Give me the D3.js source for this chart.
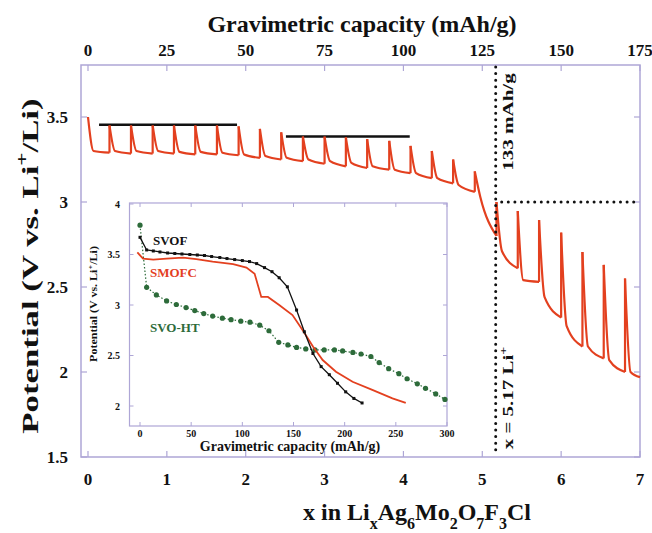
<!DOCTYPE html>
<html lang="en">
<head>
<meta charset="UTF-8">
<script src="https://d3js.org/d3.v7.min.js"></script>
<style>
  body { margin: 0; background: #fff; }
  svg text { font-family: "Liberation Serif", "Times New Roman", serif; font-weight: bold; fill: #111; }
</style>
</head>
<body>
<svg id="chart" width="652" height="533"></svg>
<script>
// ---- main discharge curve (pulsed), x in LixAg6Mo2O7F3Cl ----
// start of each current pulse
const pulseX = [0, 0.2725, 0.545, 0.82, 1.09, 1.36, 1.635, 1.91, 2.18, 2.45, 2.725, 3.0, 3.27,
  3.54, 3.82, 4.09, 4.36, 4.63, 4.905, 5.18, 5.45, 5.72, 6.0, 6.27, 6.54, 6.81];
// relaxed potential reached at the start of each pulse (top of the spike)
const pulseTop = [3.50, 3.45, 3.45, 3.45, 3.45, 3.45, 3.45, 3.445, 3.43, 3.41, 3.385, 3.385, 3.38,
  3.37, 3.36, 3.33, 3.30, 3.25, 3.18, 3.00, 2.947, 2.894, 2.82, 2.706, 2.63, 2.55];
// potential just after the current is switched on
const pulseLow = [3.30, 3.30, 3.30, 3.30, 3.295, 3.295, 3.29, 3.28, 3.27, 3.26, 3.25, 3.24, 3.23,
  3.21, 3.19, 3.17, 3.14, 3.10, 3.03, 2.71, 2.54, 2.44, 2.27, 2.15, 2.07, 2.0];
// potential at the end of each pulse
const pulseEnd = [3.29, 3.285, 3.285, 3.285, 3.28, 3.28, 3.275, 3.26, 3.25, 3.24, 3.225, 3.21, 3.20,
  3.19, 3.17, 3.14, 3.11, 3.06, 2.80, 2.61, 2.53, 2.32, 2.15, 2.08, 2.0, 1.97];
const lastX = 7.0;

// plateau guide lines
const plateauFrom = [0.14, 2.51];
const plateauTo = [1.89, 4.08];
const plateauV = [3.455, 3.385];

// cut-off markers
const cutX = 5.17;
const cutCapacity = 133;
const cutV = 3.0;

// ---- inset curves (capacity mAh/g, potential V) ----
const svofCap = [0, 6.5, 13, 19.5, 27, 34, 41, 48.7, 56, 63, 70, 78, 85, 92.5, 100, 107, 114,
  121.7, 129, 136, 144, 153, 160.6, 169, 177, 185, 193, 201, 209, 217];
const svofV = [3.67, 3.545, 3.535, 3.525, 3.515, 3.51, 3.505, 3.50, 3.495, 3.49, 3.48, 3.47, 3.46,
  3.45, 3.44, 3.43, 3.41, 3.37, 3.33, 3.27, 3.18, 2.95, 2.735, 2.52, 2.39, 2.31, 2.225, 2.14, 2.075, 2.03];

const smofcCap = [-2.6, 3, 13, 26, 42, 55, 71, 91, 104, 112, 118.5, 125, 136, 149, 159, 169, 178.5,
  191.5, 207.7, 227, 246.7, 259.7];
const smofcV = [3.52, 3.46, 3.45, 3.46, 3.47, 3.455, 3.43, 3.405, 3.37, 3.31, 3.08, 3.08, 3.0, 2.9,
  2.75, 2.59, 2.455, 2.34, 2.24, 2.16, 2.075, 2.03];

const svohtCap = [0, 6.5, 16, 26, 35.5, 45, 53.5, 62.3, 71, 80.5, 89, 98.5, 107.5, 117, 126, 135.6,
  144.5, 153, 162, 171, 180, 190, 198, 208, 216, 225.6, 233.7, 243, 253, 261, 271, 279, 289, 298];
const svohtV = [3.79, 3.175, 3.10, 3.04, 3.005, 2.975, 2.945, 2.915, 2.89, 2.87, 2.855, 2.84, 2.83,
  2.80, 2.745, 2.63, 2.605, 2.58, 2.565, 2.555, 2.555, 2.555, 2.545, 2.53, 2.515, 2.49, 2.43, 2.37,
  2.32, 2.27, 2.22, 2.175, 2.12, 2.065];

// ticks
const xTicks = [0, 1, 2, 3, 4, 5, 6, 7];
const capTicks = [0, 25, 50, 75, 100, 125, 150, 175];
const vTicks = [1.5, 2, 2.5, 3, 3.5];
const insetCapTicks = [0, 50, 100, 150, 200, 250, 300];
const insetVTicks = [2, 2.5, 3, 3.5, 4];

const red = "#e3401f";
const green = "#2d6b3a";
const frameColor = "#aea6d6";

const svg = d3.select("svg#chart");

// ---------------- main plot ----------------
const x = d3.scaleLinear().domain([0, 7]).range([88, 640]);
const cap = d3.scaleLinear().domain([0, 175]).range([88, 640]);
const y = d3.scaleLinear().domain([1.5, 3.5]).range([457, 117]);
const frame = { left: x.invert(81), right: 7, bottom: 1.5, top: y.invert(65) };

// frame
svg.append("rect")
  .attr("x", x(frame.left)).attr("y", y(frame.top))
  .attr("width", x(frame.right) - x(frame.left))
  .attr("height", y(frame.bottom) - y(frame.top))
  .attr("fill", "none").attr("stroke", frameColor).attr("stroke-width", 1.5);

// inward ticks on all four sides
const tickG = svg.append("g").attr("stroke", frameColor).attr("stroke-width", 1.2);
xTicks.forEach(t => {
  tickG.append("line").attr("x1", x(t)).attr("x2", x(t))
    .attr("y1", y(frame.bottom)).attr("y2", y(frame.bottom) - 6);
});
capTicks.forEach(t => {
  tickG.append("line").attr("x1", cap(t)).attr("x2", cap(t))
    .attr("y1", y(frame.top)).attr("y2", y(frame.top) + 6);
});
vTicks.forEach(t => {
  tickG.append("line").attr("x1", x(frame.left)).attr("x2", x(frame.left) + 6)
    .attr("y1", y(t)).attr("y2", y(t));
  tickG.append("line").attr("x1", x(frame.right)).attr("x2", x(frame.right) - 6)
    .attr("y1", y(t)).attr("y2", y(t));
});

// tick labels
svg.append("g").selectAll("text").data(xTicks).join("text")
  .attr("x", d => x(d)).attr("y", 485)
  .attr("text-anchor", "middle").style("font-size", "17px")
  .text(d => d);
svg.append("g").selectAll("text").data(capTicks).join("text")
  .attr("x", d => cap(d)).attr("y", 56)
  .attr("text-anchor", "middle").style("font-size", "17px")
  .text(d => d);
svg.append("g").selectAll("text").data(vTicks).join("text")
  .attr("x", 68).attr("y", d => y(d) + 6)
  .attr("text-anchor", "end").style("font-size", "17px")
  .text(d => d);

// axis titles
svg.append("text").attr("x", 362).attr("y", 32)
  .attr("text-anchor", "middle").style("font-size", "24px")
  .text("Gravimetric capacity (mAh/g)");

const xTitle = svg.append("text").attr("x", 417).attr("y", 520)
  .attr("text-anchor", "middle").style("font-size", "24px");
[["x in Li", 0], ["x", 1], ["Ag", 0], ["6", 1], ["Mo", 0], ["2", 1], ["O", 0], ["7", 1], ["F", 0], ["3", 1], ["Cl", 0]]
  .forEach(([s, sub], i, arr) => {
    const prevSub = i > 0 ? arr[i - 1][1] : 0;
    xTitle.append("tspan")
      .attr("dy", sub === prevSub ? 0 : (sub ? 9 : -9))
      .style("font-size", sub ? "16px" : "24px")
      .text(s);
  });

const yTitle = svg.append("text")
  .attr("transform", "translate(38,266) rotate(-90) scale(1.45,1)")
  .attr("text-anchor", "middle").style("font-size", "24px");
yTitle.append("tspan").text("Potential (V vs. Li");
yTitle.append("tspan").attr("dy", -10).style("font-size", "16px").text("+");
yTitle.append("tspan").attr("dy", 10).text("/Li)");

// plateau guides
plateauV.forEach((v, i) => {
  svg.append("line")
    .attr("x1", x(plateauFrom[i])).attr("x2", x(plateauTo[i]))
    .attr("y1", y(v)).attr("y2", y(v))
    .attr("stroke", "#111").attr("stroke-width", 2.5);
});

// ---------------- inset ----------------
const ix = d3.scaleLinear().domain([0, 300]).range([140, 447]);
const iy = d3.scaleLinear().domain([2, 4]).range([406, 204]);
const iframe = { left: ix.invert(129.5), right: 300, bottom: iy.invert(426), top: 4.01 };

svg.append("rect")
  .attr("x", ix(iframe.left)).attr("y", iy(iframe.top))
  .attr("width", ix(iframe.right) - ix(iframe.left))
  .attr("height", iy(iframe.bottom) - iy(iframe.top))
  .attr("fill", "#fff").attr("stroke", frameColor).attr("stroke-width", 1.2);

const iTickG = svg.append("g").attr("stroke", frameColor).attr("stroke-width", 1);
insetCapTicks.forEach(t => {
  iTickG.append("line").attr("x1", ix(t)).attr("x2", ix(t))
    .attr("y1", iy(iframe.bottom)).attr("y2", iy(iframe.bottom) - 4);
  iTickG.append("line").attr("x1", ix(t)).attr("x2", ix(t))
    .attr("y1", iy(iframe.top)).attr("y2", iy(iframe.top) + 4);
});
insetVTicks.forEach(t => {
  iTickG.append("line").attr("x1", ix(iframe.left)).attr("x2", ix(iframe.left) + 4)
    .attr("y1", iy(t)).attr("y2", iy(t));
  iTickG.append("line").attr("x1", ix(iframe.right)).attr("x2", ix(iframe.right) - 4)
    .attr("y1", iy(t)).attr("y2", iy(t));
});

svg.append("g").selectAll("text").data(insetCapTicks).join("text")
  .attr("x", d => ix(d)).attr("y", 437)
  .attr("text-anchor", "middle").style("font-size", "10px")
  .text(d => d);
svg.append("g").selectAll("text").data(insetVTicks).join("text")
  .attr("x", 120).attr("y", d => iy(d) + 3.5)
  .attr("text-anchor", "end").style("font-size", "10px")
  .text(d => d);

svg.append("text").attr("x", 290).attr("y", 451)
  .attr("text-anchor", "middle").style("font-size", "14px")
  .text("Gravimetric capacity (mAh/g)");

const iyTitle = svg.append("text")
  .attr("transform", "translate(97,304) rotate(-90) scale(1.2,1)")
  .attr("text-anchor", "middle").style("font-size", "10px");
iyTitle.append("tspan").text("Potential (V vs. Li");
iyTitle.append("tspan").attr("dy", -4).style("font-size", "7px").text("+");
iyTitle.append("tspan").attr("dy", 4).text("/Li)");

const iLine = d3.line().x(d => ix(d[0])).y(d => iy(d[1]));

// SVO-HT: dotted connector + dots
const svoht = svohtCap.map((c, i) => [c, svohtV[i]]);
svg.append("path").datum(svoht).attr("d", iLine)
  .attr("fill", "none").attr("stroke", green).attr("stroke-width", 1.2)
  .attr("stroke-dasharray", "1.5,2");
svg.append("g").selectAll("circle").data(svoht).join("circle")
  .attr("cx", d => ix(d[0])).attr("cy", d => iy(d[1])).attr("r", 2.6)
  .attr("fill", green);

// SMOFC: plain red line
const smofc = smofcCap.map((c, i) => [c, smofcV[i]]);
svg.append("path").datum(smofc).attr("d", iLine)
  .attr("fill", "none").attr("stroke", red).attr("stroke-width", 1.8);

// SVOF: black line with small markers
const svof = svofCap.map((c, i) => [c, svofV[i]]);
svg.append("path").datum(svof).attr("d", iLine)
  .attr("fill", "none").attr("stroke", "#111").attr("stroke-width", 1.3);
svg.append("g").selectAll("rect").data(svof).join("rect")
  .attr("x", d => ix(d[0]) - 1.5).attr("y", d => iy(d[1]) - 1.5)
  .attr("width", 3).attr("height", 3).attr("fill", "#111");

svg.append("text").attr("x", 153).attr("y", 245).style("font-size", "13px")
  .style("fill", "#111").text("SVOF");
svg.append("text").attr("x", 150).attr("y", 277).style("font-size", "13px")
  .style("fill", red).text("SMOFC");
svg.append("text").attr("x", 150).attr("y", 332).style("font-size", "13px")
  .style("fill", green).text("SVO-HT");

// ---------------- main curve ----------------
const curveLine = d3.line().x(d => x(d[0])).y(d => y(d[1])).curve(d3.curveMonotoneX);
const dropDx = 0.07;
const curveG = svg.append("g").attr("fill", "none").attr("stroke", red)
  .attr("stroke-width", 2.2).attr("stroke-linejoin", "round");
pulseX.forEach((px, i) => {
  const nextX = i < pulseX.length - 1 ? pulseX[i + 1] : lastX;
  curveG.append("path")
    .attr("d", curveLine([[px, pulseTop[i]], [px + dropDx, pulseLow[i]], [nextX, pulseEnd[i]]]));
  if (i < pulseX.length - 1) {
    curveG.append("line")
      .attr("x1", x(nextX)).attr("x2", x(nextX))
      .attr("y1", y(pulseEnd[i])).attr("y2", y(pulseTop[i + 1]));
  }
});

// ---------------- cut-off annotation ----------------
const dotted = { stroke: "#111", "stroke-width": 3, "stroke-linecap": "round", "stroke-dasharray": "0,6.6" };
const vLine = svg.append("line")
  .attr("x1", x(cutX)).attr("x2", x(cutX))
  .attr("y1", y(frame.top) + 2).attr("y2", y(frame.bottom) - 1);
const hLine = svg.append("line")
  .attr("x1", x(cutX) + 6).attr("x2", x(frame.right) - 2)
  .attr("y1", y(cutV)).attr("y2", y(cutV));
[vLine, hLine].forEach(l => Object.entries(dotted).forEach(([k, v]) => l.attr(k, v)));

svg.append("text")
  .attr("transform", `translate(${x(cutX) + 17},122) rotate(-90) scale(1.4,1)`)
  .attr("text-anchor", "middle").style("font-size", "15px")
  .text(cutCapacity + " mAh/g");

const liText = svg.append("text")
  .attr("transform", `translate(${x(cutX) + 17},398) rotate(-90) scale(1.4,1)`)
  .attr("text-anchor", "middle").style("font-size", "15px");
liText.append("tspan").text("x = " + cutX + " Li");
liText.append("tspan").attr("dy", -6).style("font-size", "10px").text("+");
</script>
</body>
</html>
